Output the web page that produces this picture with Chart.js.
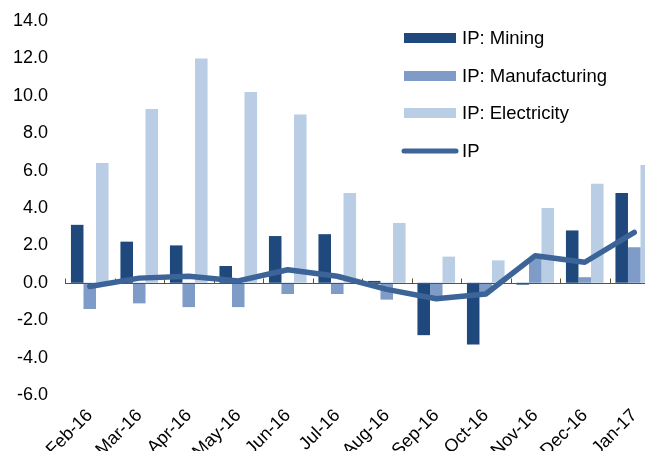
<!DOCTYPE html>
<html>
<head>
<meta charset="utf-8">
<script src="https://cdn.jsdelivr.net/npm/chart.js@4"></script>
<style>
  html, body { margin: 0; padding: 0; overflow: hidden; background: #fff; }
  #wrap { position: relative; width: 660px; height: 451px; }
</style>
</head>
<body>
<div id="wrap"><canvas id="ipChart"></canvas></div>
<script>
const months = ["Feb-16", "Mar-16", "Apr-16", "May-16", "Jun-16", "Jul-16",
  "Aug-16", "Sep-16", "Oct-16", "Nov-16", "Dec-16", "Jan-17"];
const mining = [3.1, 2.2, 2.0, 0.9, 2.5, 2.6, 0.1, -2.8, -3.3, -0.1, 2.8, 4.8];
const manufacturing = [-1.4, -1.1, -1.3, -1.3, -0.6, -0.6, -0.9, -0.9, -0.5, 1.3, 0.3, 1.9];
const electricity = [6.4, 9.3, 12.0, 10.2, 9.0, 4.8, 3.2, 1.4, 1.2, 4.0, 5.3, 6.3];
const ipTotal = [-0.2, 0.25, 0.35, 0.1, 0.7, 0.35, -0.35, -0.85, -0.6, 1.45, 1.1, 2.7];

const yMin = -6, yMax = 14, yStep = 2;

const colMining = "#1f497d";
const colManuf = "#7f9cc8";
const colElec = "#b9cde5";
const colIP = "#3c6499";
const axisColor = "#5c5234";
const font = "Liberation Sans, Arial, sans-serif";

// 0-Linie mit kleinen Strichen zwischen den Monaten, unter der IP-Linie
const zeroAxis = {
  id: "zeroAxis",
  beforeDatasetDraw(chart, args) {
    if (args.meta.type !== "line") return;
    const ctx = chart.ctx;
    const x = chart.scales.x, y = chart.scales.y;
    const y0 = Math.round(y.getPixelForValue(0)) + 0.5;
    const step = x.getPixelForValue(1) - x.getPixelForValue(0);
    ctx.save();
    ctx.strokeStyle = axisColor;
    ctx.lineWidth = 1;
    ctx.beginPath();
    ctx.moveTo(chart.chartArea.left, y0);
    ctx.lineTo(chart.chartArea.right, y0);
    for (let i = 0; i <= months.length; i++) {
      const tx = Math.round(x.getPixelForValue(i) - step / 2) + 0.5;
      ctx.moveTo(tx, y0);
      ctx.lineTo(tx, y0 - 5);
    }
    ctx.stroke();
    ctx.restore();
  }
};

// Legende oben rechts im Diagramm
const boxLegend = {
  id: "boxLegend",
  afterDraw(chart) {
    const ctx = chart.ctx;
    const left = 404, rows = [38, 76, 113, 151];
    ctx.save();
    ctx.font = "18.5px " + font;
    ctx.textBaseline = "middle";
    const items = [
      { label: "IP: Mining", color: colMining },
      { label: "IP: Manufacturing", color: colManuf },
      { label: "IP: Electricity", color: colElec },
      { label: "IP", color: colIP, line: true }
    ];
    items.forEach((it, i) => {
      const cy = rows[i];
      if (it.line) {
        ctx.strokeStyle = it.color;
        ctx.lineWidth = 5;
        ctx.lineCap = "round";
        ctx.beginPath();
        ctx.moveTo(left, cy);
        ctx.lineTo(left + 52, cy);
        ctx.stroke();
      } else {
        ctx.fillStyle = it.color;
        ctx.fillRect(left, cy - 5, 52, 10);
      }
      ctx.fillStyle = "#000";
      ctx.fillText(it.label, left + 58, cy + 1);
    });
    ctx.restore();
  }
};

const ctx = document.getElementById("ipChart").getContext("2d");
new Chart(ctx, {
  data: {
    labels: months,
    datasets: [
      {
        type: "line",
        label: "IP",
        data: ipTotal,
        borderColor: colIP,
        borderWidth: 5.5,
        borderCapStyle: "round",
        borderJoinStyle: "round",
        pointRadius: 0,
        tension: 0,
        fill: false,
        order: 0
      },
      { type: "bar", label: "IP: Mining", data: mining, backgroundColor: colMining, order: 1 },
      { type: "bar", label: "IP: Manufacturing", data: manufacturing, backgroundColor: colManuf, order: 1 },
      { type: "bar", label: "IP: Electricity", data: electricity, backgroundColor: colElec, order: 1 }
    ]
  },
  options: {
    responsive: true,
    maintainAspectRatio: false,
    animation: false,
    layout: { padding: { top: 21, right: 1, left: 0, bottom: 0 } },
    datasets: {
      bar: { categoryPercentage: 0.76, barPercentage: 1.0 }
    },
    plugins: {
      legend: { display: false },
      tooltip: { enabled: false }
    },
    scales: {
      x: {
        offset: true,
        grid: { display: false },
        border: { display: false },
        ticks: {
          autoSkip: false,
          minRotation: 45,
          maxRotation: 45,
          color: "#000",
          padding: 2,
          font: { family: font, size: 18 }
        },
        afterFit(scale) {
          scale.height = 56;
          scale.paddingLeft = 0;
          scale.paddingRight = 0;
        }
      },
      y: {
        min: yMin,
        max: yMax,
        grid: { display: false, drawTicks: false },
        border: { display: false },
        ticks: {
          stepSize: yStep,
          color: "#000",
          padding: 17,
          font: { family: font, size: 18 },
          callback: v => Number(v).toFixed(1)
        },
        afterFit(scale) {
          scale.width = 65;
          scale.paddingTop = 0;
          scale.paddingBottom = 0;
        }
      }
    }
  },
  plugins: [zeroAxis, boxLegend]
});
</script>
</body>
</html>
